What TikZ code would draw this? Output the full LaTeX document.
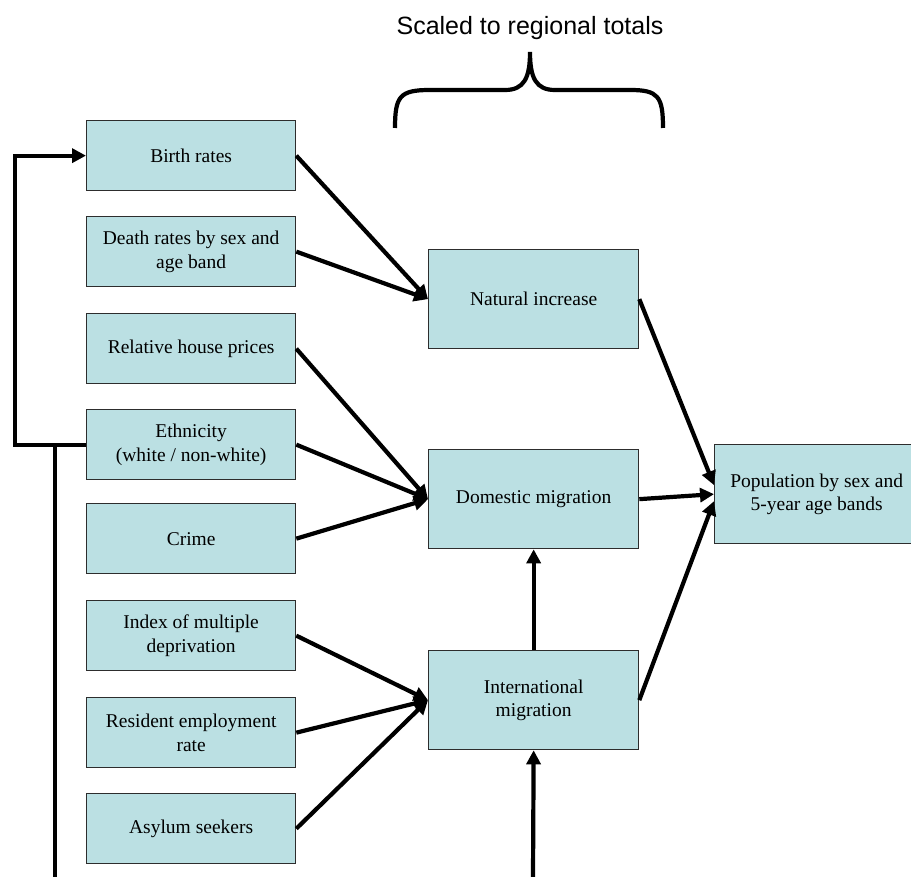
\documentclass[tikz,border=0pt]{standalone}
\usepackage{fontspec}
\setmainfont{Liberation Serif}
\newfontfamily\titlefont{Liberation Sans}
\usetikzlibrary{arrows.meta,calc}
\definecolor{boxfill}{RGB}{187,224,227}
\definecolor{boxline}{RGB}{45,45,45}
\begin{document}
\begin{tikzpicture}[x=1pt,y=-1pt,
  box/.style={draw=boxline, line width=1.3pt, fill=boxfill, inner sep=0pt,
    align=center, font=\fontsize{19.5}{23.5}\selectfont, anchor=north west},
  inbox/.style={box, minimum width=209pt, minimum height=70pt},
  midbox/.style={box, minimum width=210pt, minimum height=99pt},
  link/.style={line width=4.2pt, -{Triangle[length=14pt,width=14pt]}},
  plain/.style={line width=4.2pt}]
\useasboundingbox (0,0) rectangle (911,877);
\clip (0,0) rectangle (911,877);

% heading and brace over the middle column
\node[font=\titlefont\fontsize{25}{28}\selectfont, anchor=base] (title) at (530,35) {Scaled to regional totals};
\draw[line width=4.2pt]
  (395,128) .. controls (395,96) and (400,90) .. (430,90) -- (505,90)
  .. controls (524,90) and (530,78) .. (530,52)
  .. controls (530,78) and (536,90) .. (555,90) -- (630,90)
  .. controls (658,90) and (663,96) .. (663,128);

% input factors
\node[inbox] (birth) at (86,120) {Birth rates};
\node[inbox] (death) at (86,216) {Death rates by sex and\\age band};
\node[inbox] (house) at (86,313) {Relative house prices};
\node[inbox] (eth)   at (86,409) {Ethnicity\\(white / non-white)};
\node[inbox] (crime) at (86,503) {Crime};
\node[inbox] (imd)   at (86,600) {Index of multiple\\deprivation};
\node[inbox] (emp)   at (86,697) {Resident employment\\rate};
\node[inbox] (asy)   at (86,793) {Asylum seekers};

% components of change
\node[midbox] (nat)  at (428,249) {Natural increase};
\node[midbox] (dom)  at (428,449) {Domestic migration};
\node[midbox] (intl) at (428,650) {International\\migration};

% output
\node[box, minimum width=204pt, minimum height=99pt] (pop) at (714,444) {Population by sex and\\5-year age bands};

% factor links
\draw[link] (birth.east) -- (nat.west);
\draw[link] (death.east) -- (nat.west);
\draw[link] (house.east) -- (dom.west);
\draw[link] (eth.east)   -- (dom.west);
\draw[link] (crime.east) -- (dom.west);
\draw[link] (imd.east)   -- (intl.west);
\draw[link] (emp.east)   -- (intl.west);
\draw[link] (asy.east)   -- (intl.west);

% components into population
\draw[link] (nat.east)  -- ($(pop.west)+(0,-9)$);
\draw[link] (dom.east)  -- (pop.west);
\draw[link] (intl.east) -- ($(pop.west)+(0,7)$);
\draw[link] (intl.north) -- (dom.south);

% feedback loop and incoming feeds
\coordinate (loop) at (15,0);
\coordinate (footL) at (55,877);
\coordinate (footM) at (533,877);
\draw[link] (eth.west) -- (loop |- eth.west) -- (loop |- birth.west) -- (birth.west);
\draw[plain] (footL) -- (footL |- eth.west);
\draw[link] (footM) -- (intl.south);
\end{tikzpicture}
\end{document}
